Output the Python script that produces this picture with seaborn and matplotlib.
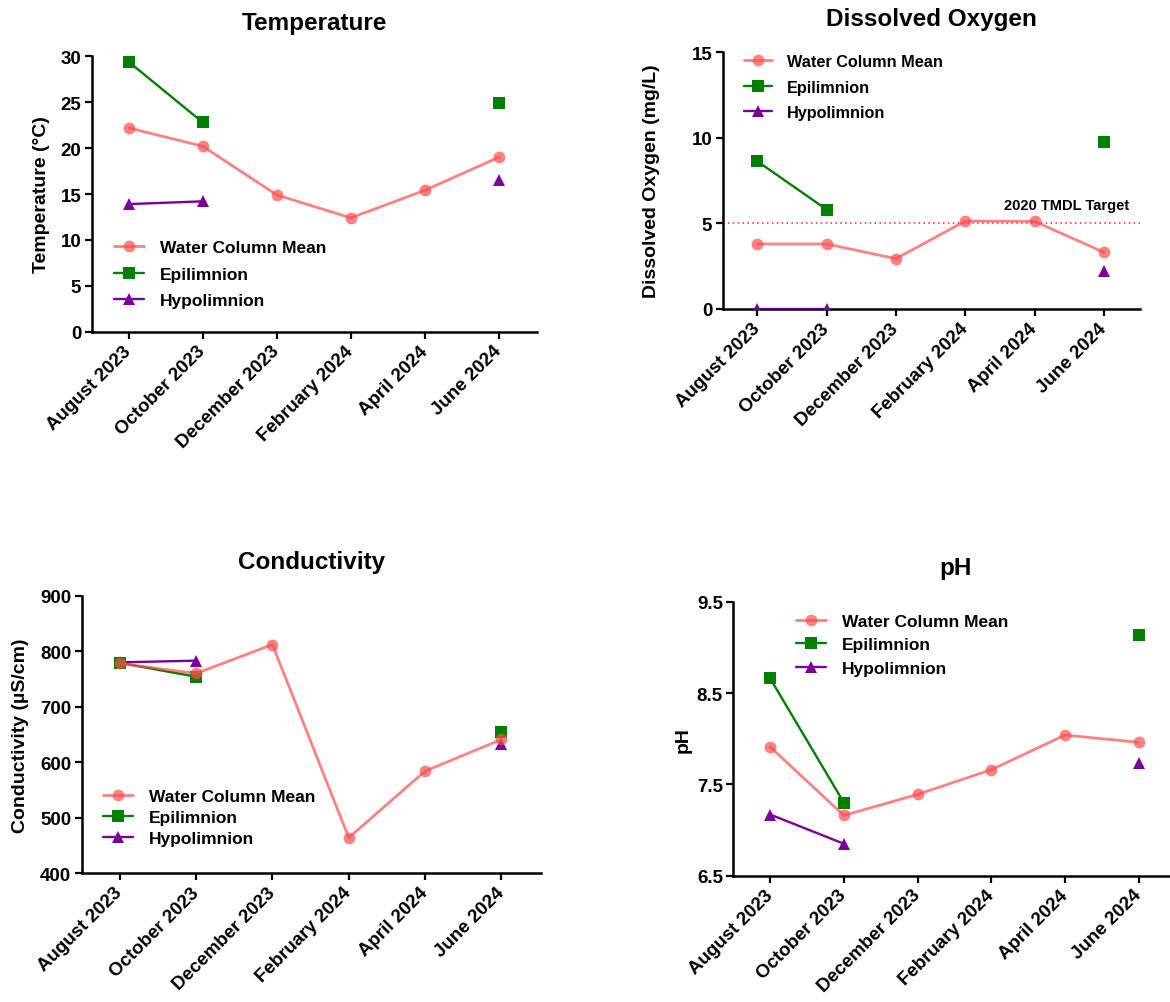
import numpy as np
import pandas as pd
import matplotlib
matplotlib.use('Agg')
import matplotlib.pyplot as plt
from matplotlib.lines import Line2D
import seaborn as sns


months = ['August 2023', 'October 2023', 'December 2023',
          'February 2024', 'April 2024', 'June 2024']
series_names = ['Water Column Mean', 'Epilimnion', 'Hypolimnion']

nan = np.nan
temp_mean = [22.2, 20.2, 14.9, 12.4, 15.4, 19.0]
temp_epi = [29.4, 22.8, nan, nan, nan, 24.9]
temp_hypo = [13.9, 14.2, nan, nan, nan, 16.5]

do_mean = [3.8, 3.8, 2.94, 5.14, 5.12, 3.31]
do_epi = [8.63, 5.81, nan, nan, nan, 9.76]
do_hypo = [0.0, 0.0, nan, nan, nan, 2.2]
do_target = 5.0

cond_mean = [778, 760, 812, 464, 584, 641]
cond_epi = [779, 754, nan, nan, nan, 654]
cond_hypo = [780, 783, nan, nan, nan, 633]

ph_mean = [7.91, 7.16, 7.39, 7.66, 8.04, 7.96]
ph_epi = [8.66, 7.30, nan, nan, nan, 9.14]
ph_hypo = [7.17, 6.85, nan, nan, nan, 7.73]

STYLES = {
    'Water Column Mean': dict(color='#FF4C4C', marker='o', lw=2.0, ms=8.5, alpha=0.7, z=3.4),
    'Epilimnion': dict(color='#008000', marker='s', lw=1.7, ms=8.2, alpha=1.0, z=3.2),
    'Hypolimnion': dict(color='#7B0099', marker='^', lw=1.7, ms=9, alpha=1.0, z=3.0),
}

W, H = 1170, 1003

sns.set_theme(style='ticks')
plt.rcParams['font.family'] = ['Liberation Sans', 'DejaVu Sans']
plt.rcParams['font.weight'] = 'bold'
plt.rcParams['axes.labelweight'] = 'bold'
plt.rcParams['axes.titleweight'] = 'bold'
plt.rcParams['text.color'] = 'black'
plt.rcParams['axes.labelcolor'] = 'black'
plt.rcParams['xtick.color'] = 'black'
plt.rcParams['ytick.color'] = 'black'

fig = plt.figure(figsize=(W / 100, H / 100), dpi=100)


def add_ax(left, top, right, bottom):
    return fig.add_axes([left / W, 1 - bottom / H, (right - left) / W, (bottom - top) / H])


def draw_series(ax, values, name):
    st = STYLES[name]
    df = pd.DataFrame({'x': np.arange(len(months)), 'y': values})
    # split at missing values so the line has gaps
    df['segment'] = df['y'].isna().cumsum()
    df = df.dropna()
    sns.lineplot(data=df, x='x', y='y', units='segment', estimator=None, sort=False,
                 ax=ax, legend=False, color=st['color'], marker=st['marker'],
                 markersize=st['ms'], linewidth=st['lw'], alpha=st['alpha'],
                 markeredgecolor=st['color'], markeredgewidth=0, zorder=st['z'])


def style_axes(ax, title, ylabel, ylim, yticks, label_right_px, left_px, right_px):
    ax.set_xlim(-0.5, 5.52)
    ax.set_ylim(*ylim)
    ax.set_yticks(yticks)
    ax.set_xticks(range(len(months)))
    ax.set_xticklabels(months, rotation=45, ha='right', va='center', rotation_mode='anchor')
    ax.set_xlabel('')
    ax.set_ylabel(ylabel, fontsize=14)
    ax.yaxis.set_label_coords((label_right_px - left_px) / (right_px - left_px), 0.5)
    ax.set_title(title, fontsize=17.5, pad=20)
    sns.despine(ax=ax)
    for side in ['left', 'bottom']:
        ax.spines[side].set_linewidth(1.8)
        ax.spines[side].set_color('black')
    ax.tick_params(axis='y', direction='out', length=5, width=1.6, labelsize=13.5, pad=2.5)
    ax.tick_params(axis='x', direction='out', length=5, width=1.6, labelsize=13.5, pad=7)


def add_legend(ax, x_px, top_px, fontsize, spacing):
    handles = []
    for name in series_names:
        st = STYLES[name]
        handles.append(Line2D([], [], color=st['color'], marker=st['marker'], lw=st['lw'],
                              ms=st['ms'], alpha=st['alpha'], mec=st['color'], mew=0))
    ax.legend(handles, series_names, loc='upper left', frameon=False,
              bbox_to_anchor=(x_px / W, 1 - top_px / H), bbox_transform=fig.transFigure,
              fontsize=fontsize, handlelength=1.75, handletextpad=0.9,
              labelspacing=spacing, borderpad=0, borderaxespad=0)


panels = [
    dict(box=(91.7, 57.3, 537.3, 332.7), title='Temperature', ylabel='Temperature (°C)',
         data=(temp_mean, temp_epi, temp_hypo), ylim=(0, 30), yticks=[0, 5, 10, 15, 20, 25, 30],
         label_x=50, legend=(114, 241, 12.5, 0.66)),
    dict(box=(722.7, 53.3, 1140, 310), title='Dissolved Oxygen', ylabel='Dissolved Oxygen (mg/L)',
         data=(do_mean, do_epi, do_hypo), ylim=(0, 15), yticks=[0, 5, 10, 15],
         label_x=660, legend=(744, 55, 11.7, 0.65)),
    dict(box=(81.7, 596.7, 541, 874.3), title='Conductivity', ylabel='Conductivity (µS/cm)',
         data=(cond_mean, cond_epi, cond_hypo), ylim=(400, 900),
         yticks=[400, 500, 600, 700, 800, 900], label_x=29, legend=(102.7, 790.3, 12.5, 0.32)),
    dict(box=(733.3, 602.7, 1177, 876.7), title='pH', ylabel='pH',
         data=(ph_mean, ph_epi, ph_hypo), ylim=(6.5, 9.5), yticks=[6.5, 7.5, 8.5, 9.5],
         label_x=692, legend=(795.7, 614.6, 12.5, 0.49)),
]

for p in panels:
    left, top, right, bottom = p['box']
    ax = add_ax(left, top, right, bottom)
    mean, epi, hypo = p['data']
    draw_series(ax, hypo, 'Hypolimnion')
    draw_series(ax, epi, 'Epilimnion')
    draw_series(ax, mean, 'Water Column Mean')
    style_axes(ax, p['title'], p['ylabel'], p['ylim'], p['yticks'], p['label_x'], left, right)
    if p['title'] == 'pH':
        ax.set_yticklabels(['6.5', '7.5', '8.5', '9.5'])
    if p['title'] == 'Dissolved Oxygen':
        ax.axhline(do_target, color='#FF2020', lw=1.1, ls=(0, (1, 2.2)), zorder=2)
        ax.text(5.37, do_target + 0.84, '2020 TMDL Target', ha='right', va='baseline',
                fontsize=10.5, fontweight='bold')
    add_legend(ax, *p['legend'])

fig.savefig('out.png', dpi=100)
